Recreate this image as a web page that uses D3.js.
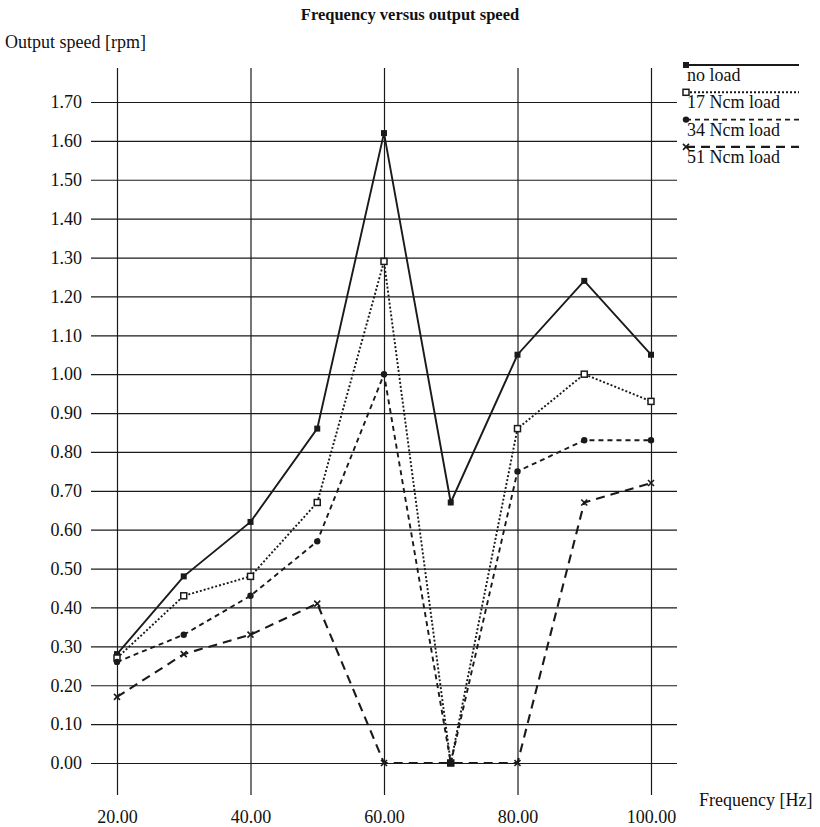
<!DOCTYPE html>
<html>
<head>
<meta charset="utf-8">
<script src="https://cdn.jsdelivr.net/npm/d3@7"></script>
<style>
  body { margin: 0; background: #fff; }
  svg text { font-family: "Liberation Serif", "DejaVu Serif", serif; fill: #111; }
</style>
</head>
<body>
<div id="chart"></div>
<script>
// data
const frequency = [20, 30, 40, 50, 60, 70, 80, 90, 100];
const noLoad   = [0.28, 0.48, 0.62, 0.86, 1.62, 0.67, 1.05, 1.24, 1.05];
const load17   = [0.27, 0.43, 0.48, 0.67, 1.29, 0.00, 0.86, 1.00, 0.93];
const load34   = [0.26, 0.33, 0.43, 0.57, 1.00, 0.00, 0.75, 0.83, 0.83];
const load51   = [0.17, 0.28, 0.33, 0.41, 0.00, 0.00, 0.00, 0.67, 0.72];
const seriesNames = ["no load", "17 Ncm load", "34 Ncm load", "51 Ncm load"];
const xTicks = [20, 40, 60, 80, 100];
const yTicks = d3.range(0, 18).map(i => i / 10);

const w = 820, h = 827;
const ink = "#1a1a1a";
const fs = 18;

const svg = d3.select("#chart").append("svg")
    .attr("width", w)
    .attr("height", h);

const x = d3.scaleLinear().domain([20, 100]).range([117, 651]);
const y = d3.scaleLinear().domain([0, 1.7]).range([763, 102]);

// title + axis titles
svg.append("text")
    .attr("x", 410).attr("y", 20)
    .attr("text-anchor", "middle")
    .attr("font-size", 16.5).attr("font-weight", "bold")
    .text("Frequency versus output speed");

svg.append("text")
    .attr("x", 5).attr("y", 48)
    .attr("font-size", fs)
    .text("Output speed [rpm]");

svg.append("text")
    .attr("x", 699).attr("y", 806)
    .attr("font-size", fs)
    .text("Frequency [Hz]");

// horizontal grid + y labels
svg.append("g")
    .attr("transform", "translate(91,0)")
    .call(d3.axisRight(y).tickValues(yTicks).tickSize(677 - 91).tickFormat(d3.format(".2f")))
    .call(g => g.select(".domain").remove())
    .call(g => g.selectAll(".tick line").attr("stroke", ink).attr("stroke-width", 1.2))
    .call(g => g.selectAll(".tick text")
        .attr("x", -9).attr("text-anchor", "end")
        .attr("font-size", fs).attr("fill", ink)
        .attr("font-family", "Liberation Serif, serif"));

// vertical grid + x labels
svg.append("g")
    .attr("transform", "translate(0,795)")
    .call(d3.axisTop(x).tickValues(xTicks).tickSize(795 - 68).tickFormat(d3.format(".2f")))
    .call(g => g.select(".domain").remove())
    .call(g => g.selectAll(".tick line").attr("stroke", ink).attr("stroke-width", 1.2))
    .call(g => g.selectAll(".tick text")
        .attr("y", 28).attr("font-size", fs).attr("fill", ink)
        .attr("font-family", "Liberation Serif, serif"));

const series = [
  { name: seriesNames[0], values: noLoad, dash: null,  width: 1.9, marker: "fsquare" },
  { name: seriesNames[1], values: load17, dash: "2,2", width: 1.9, marker: "osquare" },
  { name: seriesNames[2], values: load34, dash: "5,4", width: 1.9, marker: "circle" },
  { name: seriesNames[3], values: load51, dash: "9,6", width: 2.1, marker: "cross" }
];

const line = d3.line()
    .x(d => x(d[0]))
    .y(d => y(d[1]));

function drawMarker(g, type, cx, cy) {
  if (type === "fsquare") {
    g.append("rect").attr("x", cx - 3).attr("y", cy - 3).attr("width", 6).attr("height", 6).attr("fill", ink);
  } else if (type === "osquare") {
    g.append("rect").attr("x", cx - 3).attr("y", cy - 3).attr("width", 6).attr("height", 6)
      .attr("fill", "#fff").attr("stroke", ink).attr("stroke-width", 1.5);
  } else if (type === "circle") {
    g.append("circle").attr("cx", cx).attr("cy", cy).attr("r", 3.2).attr("fill", ink);
  } else {
    g.append("path").attr("d", `M${cx - 3},${cy - 3}L${cx + 3},${cy + 3}M${cx + 3},${cy - 3}L${cx - 3},${cy + 3}`)
      .attr("stroke", ink).attr("stroke-width", 1.6);
  }
}

series.forEach(s => {
  const pts = frequency.map((f, i) => [f, s.values[i]]);
  svg.append("path")
      .datum(pts)
      .attr("fill", "none")
      .attr("stroke", ink)
      .attr("stroke-width", s.width)
      .attr("stroke-dasharray", s.dash)
      .attr("d", line);
  const mg = svg.append("g");
  pts.forEach(p => drawMarker(mg, s.marker, x(p[0]), y(p[1])));
});

// legend
const legend = svg.append("g").attr("transform", "translate(686,65)");
series.forEach((s, i) => {
  const g = legend.append("g").attr("transform", `translate(0,${i * 27.3})`);
  g.append("line")
      .attr("x1", 0).attr("x2", 113)
      .attr("stroke", ink).attr("stroke-width", s.width)
      .attr("stroke-dasharray", s.dash);
  drawMarker(g, s.marker, 0, 0);
  g.append("text")
      .attr("x", 1).attr("y", 16)
      .attr("font-size", fs)
      .text(s.name);
});
</script>
</body>
</html>
